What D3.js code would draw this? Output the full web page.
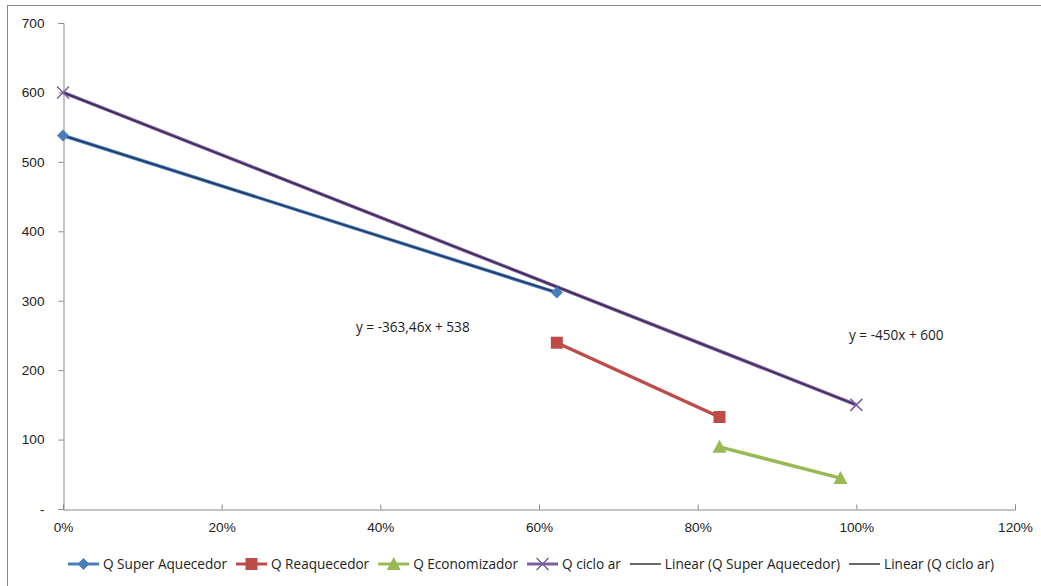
<!DOCTYPE html>
<html><head><meta charset="utf-8">
<script src="https://cdn.jsdelivr.net/npm/d3@7"></script>
<style>body{margin:0;background:#fff}svg{display:block;font-family:"Open Sans","Liberation Sans",Arial,sans-serif}</style>
</head><body>
<svg id="c" width="1041" height="586"></svg>
<script>
const seriesNames = ["Q Super Aquecedor","Q Reaquecedor","Q Economizador","Q ciclo ar"];
const superAquecedor = [[0,538],[0.6225,311.7]];
const reaquecedor = [[0.6225,239.5],[0.8275,132.5]];
const economizador = [[0.8275,89.5],[0.98,44.5]];
const cicloAr = [[0,600],[1,150]];
const trendSuper = {slope:-363.46, intercept:538, x0:0, x1:0.6225, label:"y = -363,46x + 538"};
const trendCiclo = {slope:-450, intercept:600, x0:0, x1:1, label:"y = -450x + 600"};
const xTicks = [0,0.2,0.4,0.6,0.8,1.0,1.2];
const yTicks = [0,100,200,300,400,500,600,700];
const legendLabels = ["Q Super Aquecedor","Q Reaquecedor","Q Economizador","Q ciclo ar","Linear (Q Super Aquecedor)","Linear (Q ciclo ar)"];

const svg = d3.select("#c");
svg.append("rect").attr("x",7.5).attr("y",5.5).attr("width",1040).attr("height",590)
  .attr("fill","#fff").attr("stroke","#888").attr("stroke-width",1);

const x = d3.scaleLinear().domain([0,1.2]).range([63,1015]);
const y = d3.scaleLinear().domain([0,700]).range([509,23]);

const FS = "13.6px";
const yAx = svg.append("g").attr("transform","translate(63.5,0)")
  .call(d3.axisLeft(y).tickValues(yTicks).tickSize(5).tickPadding(14)
    .tickFormat(d=> d===0 ? "-" : d3.format("d")(d)));
const xAx = svg.append("g").attr("transform","translate(0,509.5)")
  .call(d3.axisBottom(x).tickValues(xTicks).tickSize(-5).tickPadding(13)
    .tickFormat(d3.format(".0%")));
[yAx,xAx].forEach(g=>{
  g.select(".domain").attr("stroke","#888");
  g.selectAll(".tick line").attr("stroke","#888");
  g.selectAll("text").attr("fill","#222").style("font-size",FS);
});

const colors = {blue:"#4A7EBB", red:"#BE4B48", green:"#98B954", purple:"#7D60A0"};
const line = d3.line().x(d=>x(d[0])).y(d=>y(d[1]));

function drawSeries(data, color){
  svg.append("path").datum(data).attr("d",line).attr("fill","none")
    .attr("stroke",color).attr("stroke-width",3.5);
}
drawSeries(superAquecedor, colors.blue);
drawSeries(reaquecedor, colors.red);
drawSeries(economizador, colors.green);
drawSeries(cicloAr, colors.purple);

function drawTrend(t, color){
  const pts = [[t.x0, t.intercept + t.slope*t.x0],[t.x1, t.intercept + t.slope*t.x1]];
  svg.append("path").datum(pts).attr("d",line).attr("fill","none")
    .attr("stroke",color).attr("stroke-width",1.5);
}
drawTrend(trendSuper, "#1F3864");
drawTrend(trendCiclo, "#3B2A55");

function marker(g, type, cx, cy, color){
  if(type==="diamond"){
    g.append("path").attr("d",`M${cx},${cy-6}L${cx+6},${cy}L${cx},${cy+6}L${cx-6},${cy}Z`).attr("fill",color);
  } else if(type==="square"){
    g.append("rect").attr("x",cx-6).attr("y",cy-6).attr("width",12).attr("height",12).attr("fill",color);
  } else if(type==="triangle"){
    g.append("path").attr("d",`M${cx},${cy-7}L${cx+7},${cy+6}L${cx-7},${cy+6}Z`).attr("fill",color);
  } else if(type==="x"){
    g.append("path").attr("d",`M${cx-6},${cy-6}L${cx+6},${cy+6}M${cx-6},${cy+6}L${cx+6},${cy-6}`)
      .attr("stroke",color).attr("stroke-width",1.5).attr("fill","none");
  }
}
const mg = svg.append("g");
superAquecedor.forEach(d=>marker(mg,"diamond",x(d[0]),y(d[1]),colors.blue));
reaquecedor.forEach(d=>marker(mg,"square",x(d[0]),y(d[1]),colors.red));
economizador.forEach(d=>marker(mg,"triangle",x(d[0]),y(d[1]),colors.green));
cicloAr.forEach(d=>marker(mg,"x",x(d[0]),y(d[1]),colors.purple));

svg.append("text").attr("x",356).attr("y",332).text(trendSuper.label).attr("fill","#222").style("font-size",FS);
svg.append("text").attr("x",849).attr("y",340).text(trendCiclo.label).attr("fill","#222").style("font-size",FS);

const legendTypes = [["diamond",colors.blue],["square",colors.red],["triangle",colors.green],["x",colors.purple],[null,"#000"],[null,"#000"]];
const lg = svg.append("g");
let lx = 68; const ly = 564;
legendLabels.forEach((lab,i)=>{
  const [t,c] = legendTypes[i];
  lg.append("line").attr("x1",lx).attr("x2",lx+31).attr("y1",ly).attr("y2",ly)
    .attr("stroke",c).attr("stroke-width",t?3:1.2);
  if(t) marker(lg,t,lx+15.5,ly,c);
  const tx = lg.append("text").attr("x",lx+35).attr("y",ly+4.5).text(lab).attr("fill","#222").style("font-size",FS);
  lx += 35 + tx.node().getComputedTextLength() + 9;
});
</script>
</body></html>
